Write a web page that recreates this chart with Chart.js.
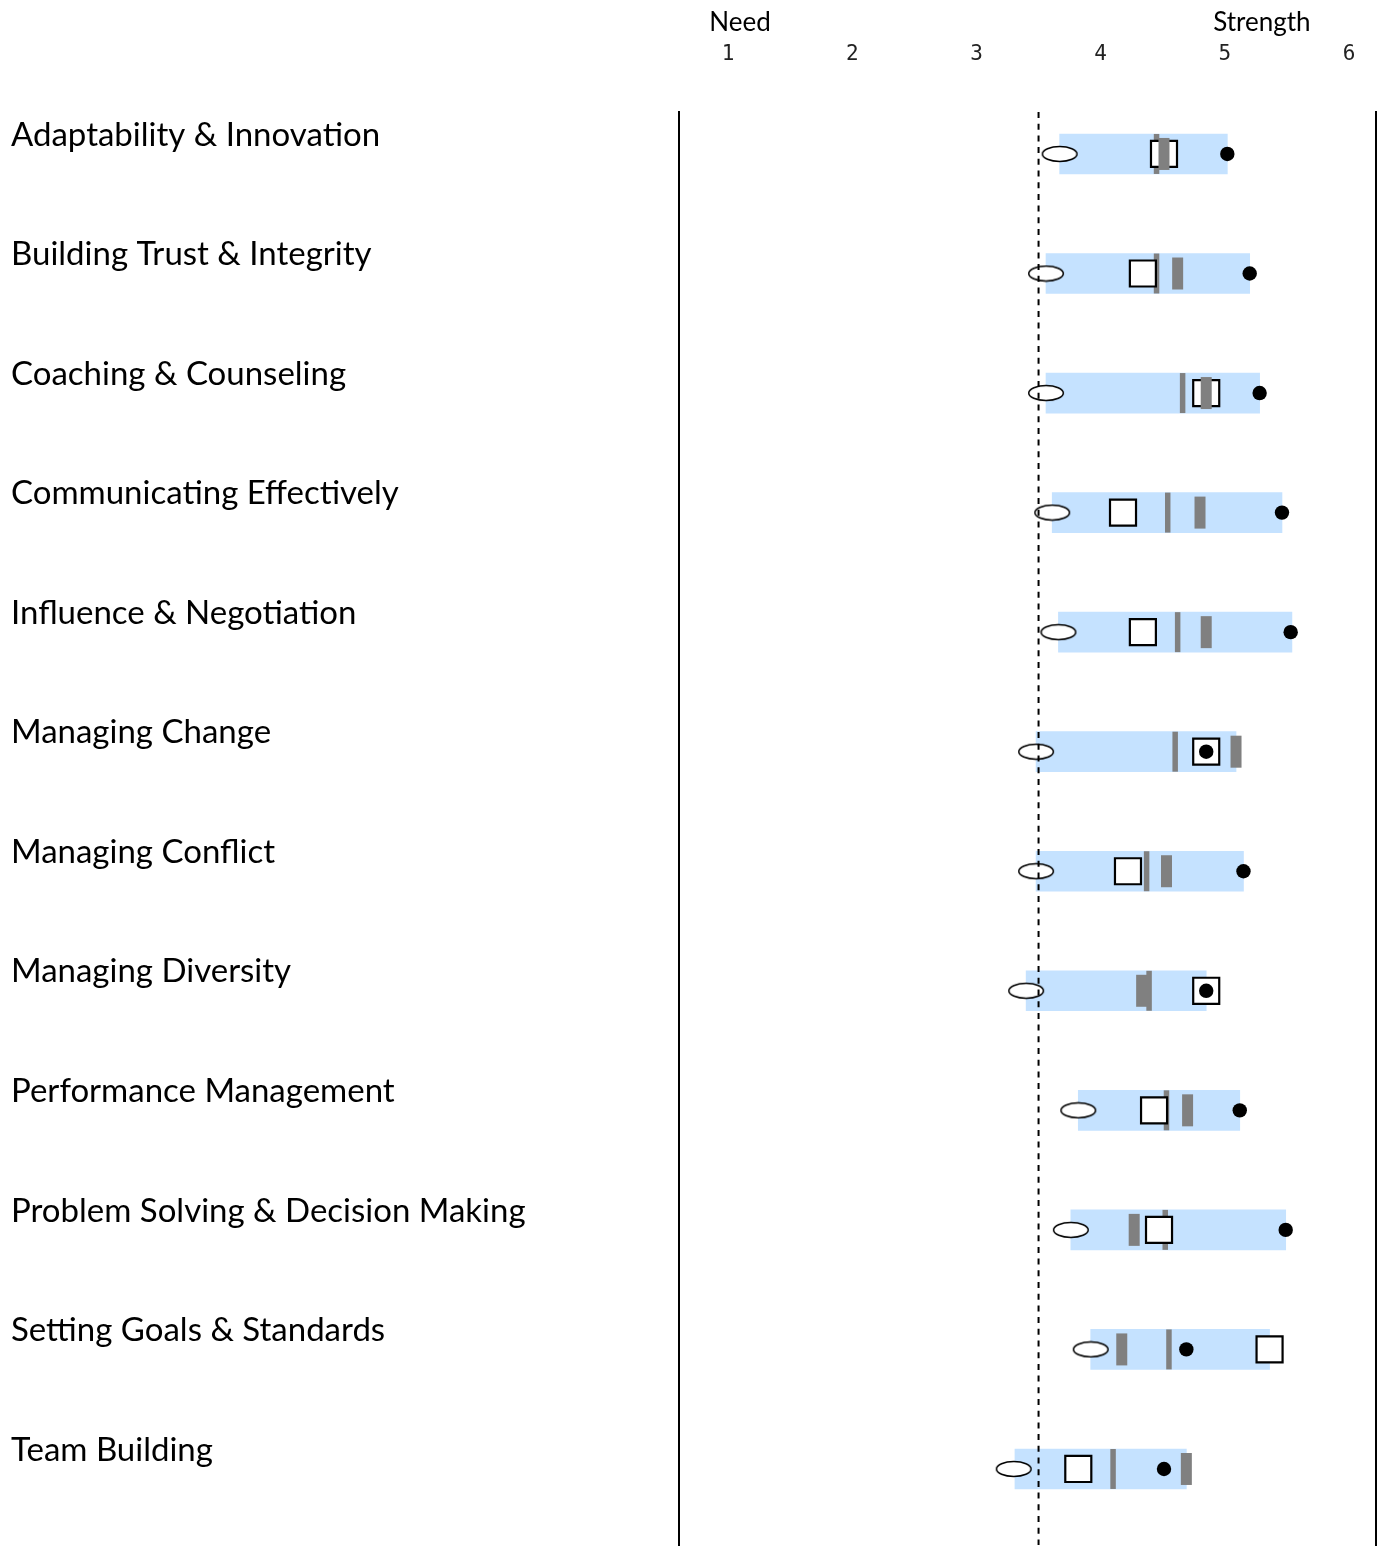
<!DOCTYPE html>
<html>
<head>
<meta charset="utf-8">
<script src="https://cdn.jsdelivr.net/npm/chart.js@4/dist/chart.umd.min.js"></script>
<style>
  html, body { margin: 0; padding: 0; background: #fff; }
  canvas { display: block; }
</style>
</head>
<body>
<canvas id="c" width="1377" height="1550"></canvas>
<script>
// ---------- DATA ----------
const categories = [
  "Adaptability & Innovation",
  "Building Trust & Integrity",
  "Coaching & Counseling",
  "Communicating Effectively",
  "Influence & Negotiation",
  "Managing Change",
  "Managing Conflict",
  "Managing Diversity",
  "Performance Management",
  "Problem Solving & Decision Making",
  "Setting Goals & Standards",
  "Team Building"
];
const tickValues = [1, 2, 3, 4, 5, 6];
const rangeLow   = [3.67, 3.56, 3.56, 3.61, 3.66, 3.48, 3.48, 3.40, 3.82, 3.76, 3.92, 3.31];
const rangeHigh  = [5.02, 5.20, 5.28, 5.46, 5.54, 5.09, 5.15, 4.85, 5.12, 5.49, 5.36, 4.69];
const ovalValues = [3.67, 3.56, 3.56, 3.61, 3.66, 3.48, 3.48, 3.40, 3.82, 3.76, 3.92, 3.30];
const dotValues  = [5.02, 5.20, 5.28, 5.46, 5.53, 4.85, 5.15, 4.85, 5.12, 5.49, 4.69, 4.51];
const squareValues = [4.51, 4.34, 4.85, 4.18, 4.34, 4.85, 4.22, 4.85, 4.43, 4.47, 5.36, 3.82];
const thinLineValues = [4.45, 4.45, 4.66, 4.54, 4.62, 4.60, 4.37, 4.39, 4.53, 4.52, 4.55, 4.10];
const thickBarValues = [4.51, 4.62, 4.85, 4.80, 4.85, 5.09, 4.53, 4.33, 4.70, 4.27, 4.17, 4.69];
const thresholdValue = [3.5];
const topLabels = ["Need", "Strength"];
const topLabelAt = [1, 5];

// ---------- SCALE RANGE ----------
const xMin = 0.605, xMax = 6.217;
const yMin = -0.351, yMax = 11.636;

// ---------- POINT IMAGE (oval) ----------
const oval = document.createElement('canvas');
oval.width = 38; oval.height = 18;
(function () {
  const g = oval.getContext('2d');
  g.beginPath();
  g.ellipse(19, 9, 17.3, 7.5, 0, 0, Math.PI * 2);
  g.fillStyle = '#ffffff';
  g.fill();
  g.lineWidth = 1.5;
  g.strokeStyle = '#000000';
  g.stroke();
})();

const pts = arr => arr.map((v, i) => ({ x: v, y: i }));

const topLabelPlugin = {
  id: 'topLabels',
  afterDraw(chart) {
    const ctx = chart.ctx;
    const xs = chart.scales.x;
    ctx.save();
    ctx.font = '26px Lato';
    ctx.fillStyle = '#000';
    ctx.textAlign = 'center';
    ctx.textBaseline = 'alphabetic';
    const shifts = [12, 37];
    topLabels.forEach((t, i) => {
      ctx.fillText(t, xs.getPixelForValue(topLabelAt[i]) + shifts[i], 31);
    });
    ctx.restore();
  }
};

new Chart(document.getElementById('c'), {
  data: {
    datasets: [
      {
        type: 'line',
        data: [{ x: thresholdValue[0], y: yMin }, { x: thresholdValue[0], y: yMax }],
        borderColor: '#000',
        borderWidth: 2,
        borderDash: [6, 5.7],
        pointRadius: 0,
        order: 0
      },
      {
        type: 'scatter',
        data: pts(ovalValues),
        pointStyle: oval,
        order: 1
      },
      {
        type: 'scatter',
        data: pts(dotValues),
        pointStyle: 'circle',
        pointRadius: 7.2,
        backgroundColor: '#000',
        borderWidth: 0,
        order: 2
      },
      {
        type: 'scatter',
        data: pts(thickBarValues),
        pointStyle: 'line',
        rotation: 90,
        pointRadius: 16,
        borderWidth: 11,
        borderColor: '#808080',
        order: 3
      },
      {
        type: 'scatter',
        data: pts(squareValues),
        pointStyle: 'rect',
        pointRadius: 18.4,
        backgroundColor: '#fff',
        borderColor: '#000',
        borderWidth: 2.2,
        order: 4
      },
      {
        type: 'scatter',
        data: pts(thinLineValues),
        pointStyle: 'line',
        rotation: 90,
        pointRadius: 20,
        borderWidth: 5.5,
        borderColor: '#808080',
        order: 5
      },
      {
        type: 'bar',
        indexAxis: 'y',
        data: rangeLow.map((v, i) => ({ x: [v, rangeHigh[i]], y: i })),
        backgroundColor: 'rgb(197,226,255)',
        borderWidth: 0,
        barThickness: 40,
        order: 6
      }
    ]
  },
  options: {
    responsive: false,
    animation: false,
    events: [],
    layout: { autoPadding: false, padding: { left: 11, right: 0, top: 0, bottom: 5 } },
    plugins: { legend: { display: false }, tooltip: { enabled: false } },
    scales: {
      x: {
        type: 'linear',
        position: 'top',
        offset: false,
        min: xMin, max: xMax,
        grid: { display: false, drawTicks: false, offset: false },
        border: { display: false },
        afterBuildTicks: s => { s.ticks = tickValues.map(v => ({ value: v })); },
        afterFit: s => { s.height = 112; s.paddingLeft = 0; s.paddingRight = 0; },
        ticks: {
          padding: 45,
          font: { family: 'DejaVu Sans Mono', size: 21 },
          color: '#222',
          callback: v => String(v)
        }
      },
      y: {
        type: 'linear',
        position: 'left',
        reverse: true,
        offset: false,
        min: yMin, max: yMax,
        grid: { display: false, drawTicks: false, offset: false },
        border: { display: true, color: '#000', width: 2 },
        afterBuildTicks: s => { s.ticks = categories.map((c, i) => ({ value: i })); },
        afterFit: s => { s.width = 668; s.paddingTop = 0; s.paddingBottom = 0; },
        ticks: {
          crossAlign: 'far',
          autoSkip: false,
          padding: 0,
          labelOffset: -19,
          font: { family: 'Lato', size: 33 },
          color: '#000',
          callback: (v, i) => categories[i]
        }
      },
      y2: {
        type: 'linear',
        position: 'right',
        reverse: true,
        offset: false,
        min: yMin, max: yMax,
        grid: { display: false, drawTicks: false },
        border: { display: true, color: '#000', width: 2 },
        ticks: { display: false },
        afterFit: s => { s.width = 1; s.paddingTop = 0; s.paddingBottom = 0; }
      }
    }
  },
  plugins: [topLabelPlugin]
});
</script>
</body>
</html>
